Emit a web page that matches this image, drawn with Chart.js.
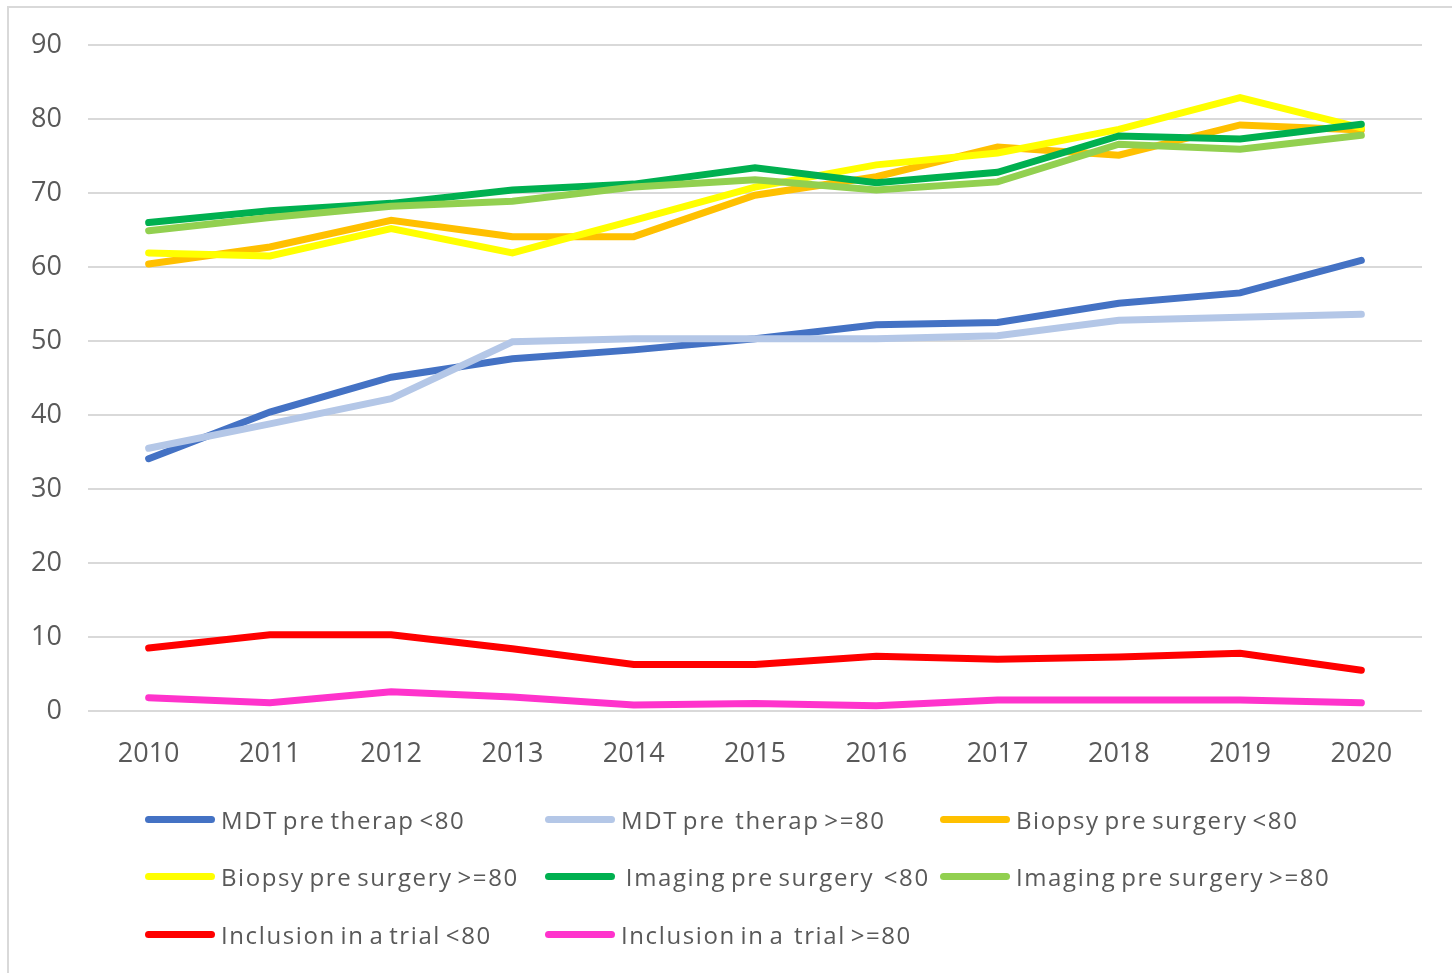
<!DOCTYPE html>
<html>
<head>
<meta charset="utf-8">
<script src="https://cdn.jsdelivr.net/npm/chart.js@4"></script>
<style>
  html, body { margin: 0; padding: 0; background: #fff; }
  #wrap { position: relative; width: 1452px; height: 973px; overflow: hidden; }
  #frame { position: absolute; left: 7px; top: 6px; width: 1460px; height: 980px;
           border-left: 2px solid #d9d9d9; border-top: 2px solid #d9d9d9; }
  #myChart { position: absolute; left: 0; top: 0; }
  .item { position: absolute; height: 30px; display: flex; align-items: center;
          font-family: "Open Sans", sans-serif; font-size: 24px; color: #595959;
          white-space: pre; letter-spacing: 1.6px; word-spacing: -3px; }
  .swatch { width: 70px; height: 7px; border-radius: 4px; margin-right: 6px; }
</style>
</head>
<body>
<div id="wrap">
  <div id="frame"></div>
  <canvas id="myChart" width="1452" height="973"></canvas>
  <div id="legend"></div>
</div>
<script>
const years = ['2010', '2011', '2012', '2013', '2014', '2015', '2016', '2017', '2018', '2019', '2020'];
const yTicks = [0, 10, 20, 30, 40, 50, 60, 70, 80, 90];

const seriesNames = [
  'MDT pre therap <80',
  'MDT pre  therap >=80',
  'Biopsy pre surgery <80',
  'Biopsy pre surgery >=80',
  ' Imaging pre surgery  <80',
  'Imaging pre surgery >=80',
  'Inclusion in a trial <80',
  'Inclusion in a  trial >=80'
];

const mdtUnder80      = [34.1, 40.4, 45.1, 47.6, 48.8, 50.3, 52.2, 52.5, 55.1, 56.5, 60.9];
const mdtOver80       = [35.5, 38.8, 42.2, 49.9, 50.3, 50.3, 50.3, 50.7, 52.8, 53.2, 53.6];
const biopsyUnder80   = [60.4, 62.7, 66.3, 64.1, 64.1, 69.7, 72.2, 76.2, 75.1, 79.2, 78.5];
const biopsyOver80    = [61.9, 61.5, 65.2, 61.9, 66.3, 70.8, 73.8, 75.4, 78.6, 82.9, 78.8];
const imagingUnder80  = [66.0, 67.6, 68.6, 70.4, 71.2, 73.4, 71.4, 72.8, 77.7, 77.3, 79.3];
const imagingOver80   = [64.9, 66.7, 68.2, 68.9, 70.8, 71.8, 70.4, 71.5, 76.6, 75.9, 77.8];
const trialUnder80    = [8.5, 10.3, 10.3, 8.4, 6.3, 6.3, 7.4, 7.0, 7.3, 7.8, 5.5];
const trialOver80     = [1.8, 1.1, 2.6, 1.9, 0.8, 1.0, 0.7, 1.5, 1.5, 1.5, 1.1];

const seriesValues = [mdtUnder80, mdtOver80, biopsyUnder80, biopsyOver80,
                      imagingUnder80, imagingOver80, trialUnder80, trialOver80];
const seriesColors = ['#4472C4', '#B4C7E7', '#FFC000', '#FFFF00',
                      '#00B050', '#92D050', '#FF0000', '#FF33CC'];

// Excel draws later series on top, so give them a lower "order"
const datasets = seriesValues.map((values, i) => ({
  label: seriesNames[i].trim(),
  data: values,
  borderColor: seriesColors[i],
  backgroundColor: seriesColors[i],
  borderWidth: 7,
  borderCapStyle: 'round',
  borderJoinStyle: 'miter',
  pointRadius: 0,
  pointHoverRadius: 0,
  tension: 0,
  fill: false,
  order: seriesValues.length - i
}));

const tickFont = { family: '"Open Sans", sans-serif', size: 27 };

const chart = new Chart(document.getElementById('myChart').getContext('2d'), {
  type: 'line',
  data: { labels: years, datasets: datasets },
  options: {
    responsive: false,
    animation: false,
    events: [],
    layout: { padding: { left: 0, right: 30, top: 45, bottom: 182 } },
    plugins: { legend: { display: false }, tooltip: { enabled: false } },
    scales: {
      x: {
        offset: true,
        grid: { display: false, drawTicks: false },
        border: { display: false },
        ticks: { color: '#595959', font: tickFont, padding: 27, maxRotation: 0 },
        afterFit: (scale) => { scale.height = 80; }
      },
      y: {
        min: 0,
        max: 90,
        afterBuildTicks: (scale) => { scale.ticks = yTicks.map(v => ({ value: v })); },
        grid: { color: '#d9d9d9', lineWidth: 2, drawTicks: false },
        border: { display: false },
        ticks: { color: '#595959', font: tickFont, padding: 26 },
        afterFit: (scale) => { scale.width = 88; }
      }
    }
  }
});

// Legend in three columns like the Excel original
const legendCols = [145, 545, 940];
const legendRows = [820, 877, 935];
const legend = document.getElementById('legend');
chart.data.datasets.forEach((ds, i) => {
  const item = document.createElement('div');
  item.className = 'item';
  item.style.left = legendCols[i % 3] + 'px';
  item.style.top = (legendRows[Math.floor(i / 3)] - 16) + 'px';
  const sw = document.createElement('div');
  sw.className = 'swatch';
  sw.style.background = ds.borderColor;
  const txt = document.createElement('span');
  txt.textContent = seriesNames[i];
  item.appendChild(sw);
  item.appendChild(txt);
  legend.appendChild(item);
});
</script>
</body>
</html>
